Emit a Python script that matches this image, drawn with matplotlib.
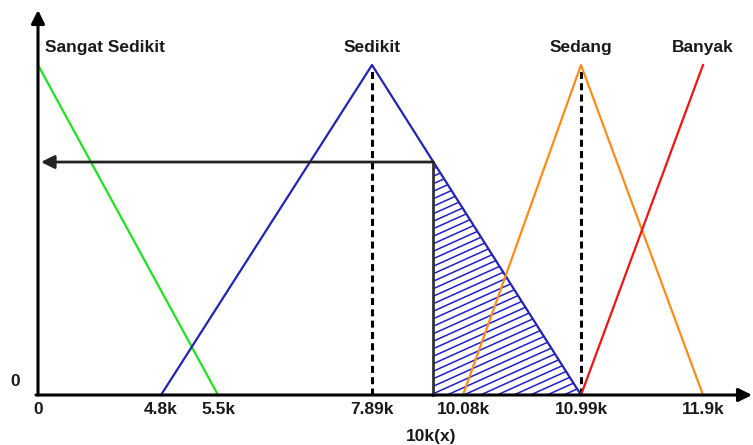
import numpy as np
import matplotlib
matplotlib.use("Agg")
import matplotlib.pyplot as plt
from matplotlib.collections import LineCollection
from matplotlib.patches import Polygon
from matplotlib.transforms import IdentityTransform

# ---------------- data ----------------
tick_values = [0, 4800, 5500, 7890, 10080, 10990, 11900]
tick_labels = ["0", "4.8k", "5.5k", "7.89k", "10.08k", "10.99k", "11.9k"]

sangat_sedikit_x = [0, 5500]
sangat_sedikit_y = [1, 0]
sedikit_x = [4800, 7890, 10990]
sedikit_y = [0, 1, 0]
sedang_x = [10080, 10990, 11900]
sedang_y = [0, 1, 0]
banyak_x = [10990, 11900]
banyak_y = [0, 1]
set_names = ["Sangat Sedikit", "Sedikit", "Sedang", "Banyak"]
cut_level = 0.706
x_label = "10k(x)"

# ---------------- layout (schematic, non-linear axis) ----------------
W, H, DPI = 753, 445, 100
tick_px = [38, 161, 218, 372, 463, 581, 703]
bp_vals = np.array([-2000] + tick_values + [13000], dtype=float)
bp_px = np.array([38 - 2000 * 123 / 4800] + tick_px + [703 + 1100 * 122 / 910])

def fwd(v):
    return np.interp(v, bp_vals, bp_px)

def inv(p):
    return np.interp(p, bp_px, bp_vals)

y0_px, y1_px = 395, 65          # pixel rows (from top) for membership 0 and 1
unit = y0_px - y1_px

def ypx(py):                     # pixel row from top -> data y
    return (y0_px - py) / unit

fig = plt.figure(figsize=(W / DPI, H / DPI), dpi=DPI)
ax = fig.add_axes([0, 0, 1, 1])
ax.set_xscale("function", functions=(fwd, inv))
ax.set_xlim(inv(0), inv(W))
ax.set_ylim(ypx(H), ypx(0))
ax.axis("off")

font = dict(family=["Liberation Sans", "DejaVu Sans"], fontweight="bold",
            fontsize=12.5, color="#1a1a1a")

# membership functions
ax.plot(sangat_sedikit_x, sangat_sedikit_y, color="#22e022", lw=1.6, zorder=3)
ax.plot(sedikit_x, sedikit_y, color="#2323b4", lw=1.6, zorder=3)
ax.plot(sedang_x, sedang_y, color="#ff8c1a", lw=1.6, zorder=3)
ax.plot(banyak_x, banyak_y, color="#ee1414", lw=1.6, zorder=3)

# dashed peak markers
for xv in [sedikit_x[1], sedang_x[1]]:
    ax.plot([xv, xv], [0, 0.985], color="black", lw=2.2, ls=(0, (2.3, 1.4)), zorder=2)

# cut position on descending leg of "Sedikit" (straight in display space)
p_peak, p_end = fwd(sedikit_x[1]), fwd(sedikit_x[2])
cut_x = inv(p_peak + (1 - cut_level) * (p_end - p_peak))

# hatched region
poly = Polygon([[cut_x, 0], [cut_x, cut_level], [sedikit_x[2], 0]], closed=True,
               facecolor="none", edgecolor="none", transform=ax.transData)
ax.add_patch(poly)
disp = ax.transData.transform([[cut_x, 0], [cut_x, cut_level], [sedikit_x[2], 0]])
xmin, xmax = disp[:, 0].min() - 5, disp[:, 0].max() + 5
ymin, ymax = disp[:, 1].min() - 200, disp[:, 1].max() + 5
slope, spacing = 0.45, 7.5
segs = []
for c in np.arange(ymin - slope * (xmax - xmin), ymax + 1, spacing):
    segs.append([(xmin, c), (xmax, c + slope * (xmax - xmin))])
lc = LineCollection(segs, colors="#1f1fc8", linewidths=1.1, transform=IdentityTransform(), zorder=2)
ax.add_collection(lc)
lc.set_clip_path(poly)

# cut lines
ax.plot([cut_x, cut_x], [0, cut_level], color="#333333", lw=2.0, zorder=4)
ax.annotate("", xy=(inv(41), cut_level), xytext=(cut_x, cut_level),
            arrowprops=dict(arrowstyle="-|>", lw=2.0, color="#222222",
                            mutation_scale=20, shrinkA=0, shrinkB=0), zorder=4)

# axes with arrows
ax.annotate("", xy=(0, ypx(10)), xytext=(0, 0),
            arrowprops=dict(arrowstyle="-|>", lw=2.2, color="black",
                            mutation_scale=20, shrinkA=0, shrinkB=0), zorder=5)
ax.annotate("", xy=(inv(752), 0), xytext=(inv(36), 0),
            arrowprops=dict(arrowstyle="-|>", lw=2.2, color="black",
                            mutation_scale=20, shrinkA=0, shrinkB=0), zorder=5)

# labels
ax.text(inv(45), ypx(47), set_names[0], ha="left", va="center", **font)
ax.text(sedikit_x[1], ypx(47), set_names[1], ha="center", va="center", **font)
ax.text(sedang_x[1], ypx(47), set_names[2], ha="center", va="center", **font)
ax.text(banyak_x[1], ypx(47), set_names[3], ha="center", va="center", **font)

for v, lab in zip(tick_values, tick_labels):
    ax.text(v, ypx(410), lab, ha="center", va="center", **font)
ax.text(inv(15), ypx(381), "0", ha="center", va="center", **font)
ax.text(inv(431), ypx(437), x_label, ha="center", va="center", **font)

fig.savefig("out.png", dpi=DPI, facecolor="white")
